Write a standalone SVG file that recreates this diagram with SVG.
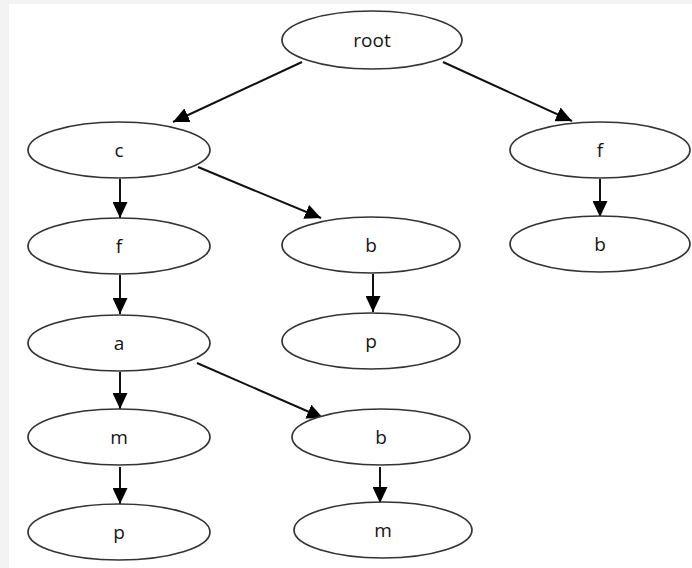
<svg xmlns="http://www.w3.org/2000/svg" width="692" height="568" viewBox="0 0 692 568">
  <style>
    .node ellipse { fill: #ffffff; stroke: #333333; stroke-width: 1.7; }
    .node text { font-family: "Open Sans", "DejaVu Sans", sans-serif; font-size: 19px; fill: #141414; text-anchor: middle; dominant-baseline: central; }
    .edges line { stroke: #111111; stroke-width: 2; marker-end: url(#arrow); }
  </style>
  <defs>
    <!-- filled triangular arrowhead, tip at the line end -->
    <marker id="arrow" viewBox="0 0 10 10" refX="10" refY="5" markerWidth="16" markerHeight="15" markerUnits="userSpaceOnUse" orient="auto" preserveAspectRatio="none">
      <path d="M0,0 L10,5 L0,10 Z" fill="#000000"/>
    </marker>
  </defs>
  <!-- page margin and canvas -->
  <rect x="0" y="0" width="692" height="568" fill="#f3f3f3"/>
  <rect x="9" y="4" width="683" height="564" fill="#ffffff"/>

  <g class="edges" id="edges">
    <line x1="302" y1="62" x2="173" y2="122"/>
    <line x1="443" y1="62" x2="572" y2="121"/>
    <line x1="120" y1="179" x2="120" y2="218"/>
    <line x1="198" y1="167" x2="321" y2="218"/>
    <line x1="120" y1="275" x2="120" y2="314"/>
    <line x1="373" y1="274" x2="373" y2="312"/>
    <line x1="120" y1="372" x2="120" y2="409"/>
    <line x1="197" y1="363" x2="323" y2="418"/>
    <line x1="120" y1="467" x2="120" y2="504"/>
    <line x1="380" y1="467" x2="380" y2="503"/>
    <line x1="600" y1="179" x2="600" y2="217"/>
  </g>

  <g class="node" id="n-root"><ellipse cx="372" cy="40" rx="90" ry="29"/><text x="372" y="40">root</text></g>
  <g class="node" id="n-c"><ellipse cx="119" cy="150" rx="91" ry="28"/><text x="119" y="150">c</text></g>
  <g class="node" id="n-f1"><ellipse cx="119" cy="246" rx="91" ry="28"/><text x="119" y="246">f</text></g>
  <g class="node" id="n-a"><ellipse cx="119" cy="343" rx="91" ry="28"/><text x="119" y="343">a</text></g>
  <g class="node" id="n-m1"><ellipse cx="119" cy="437" rx="91" ry="28"/><text x="119" y="437">m</text></g>
  <g class="node" id="n-p1"><ellipse cx="119" cy="532" rx="91" ry="28"/><text x="119" y="532">p</text></g>
  <g class="node" id="n-b1"><ellipse cx="371" cy="245" rx="89" ry="28"/><text x="371" y="245">b</text></g>
  <g class="node" id="n-p2"><ellipse cx="371" cy="341" rx="89" ry="28"/><text x="371" y="341">p</text></g>
  <g class="node" id="n-b2"><ellipse cx="381" cy="437" rx="89" ry="28"/><text x="381" y="437">b</text></g>
  <g class="node" id="n-m2"><ellipse cx="383" cy="530" rx="89" ry="28"/><text x="383" y="530">m</text></g>
  <g class="node" id="n-f2"><ellipse cx="600" cy="150" rx="90" ry="28"/><text x="600" y="150">f</text></g>
  <g class="node" id="n-b3"><ellipse cx="600" cy="244" rx="90" ry="28"/><text x="600" y="244">b</text></g>
</svg>
